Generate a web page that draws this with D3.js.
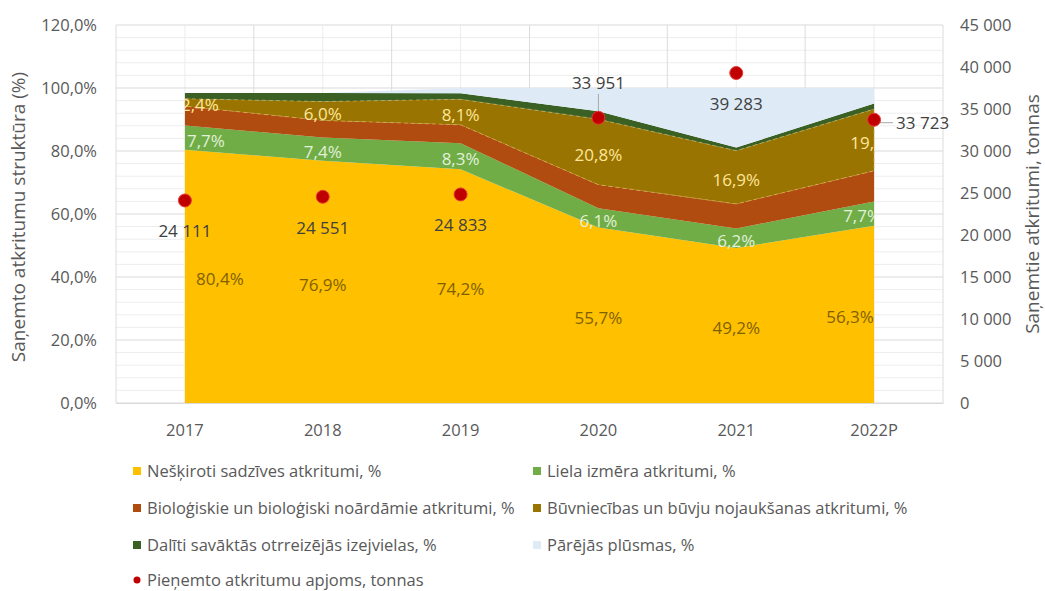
<!DOCTYPE html>
<html>
<head>
<meta charset="utf-8">
<script src="https://cdn.jsdelivr.net/npm/d3@7"></script>
<style>
  body { margin: 0; background: #fff; }
  svg { font-family: "Open Sans", sans-serif; }
</style>
</head>
<body>
<div id="chart"></div>
<script>
// categories
const years = ["2017", "2018", "2019", "2020", "2021", "2022P"];

// structure of received waste, % (stacked bottom -> top)
const neskiroti = [80.4, 76.9, 74.2, 55.7, 49.2, 56.3];
const lielaIzmera = [7.7, 7.4, 8.3, 6.1, 6.2, 7.7];
const biologiskie = [6.1, 5.4, 5.8, 7.5, 7.8, 9.7];
const buvniecibas = [2.4, 6.0, 8.1, 20.8, 16.9, 19.6];
const daliti = [1.8, 2.7, 1.9, 2.5, 1.0, 1.8];
const parejas = [0, 0, 1.7, 7.4, 18.9, 4.9];

// received waste, tonnes (right axis)
const tonnas = [24111, 24551, 24833, 33951, 39283, 33723];

// tick values
const pctTicks = [0, 20, 40, 60, 80, 100, 120];
const tonTicks = [0, 5000, 10000, 15000, 20000, 25000, 30000, 35000, 40000, 45000];

const seriesNames = [
    "Nešķiroti sadzīves atkritumi, %",
    "Liela izmēra atkritumi, %",
    "Bioloģiskie un bioloģiski noārdāmie atkritumi, %",
    "Būvniecības un būvju nojaukšanas atkritumi, %",
    "Dalīti savāktās otrreizējās izejvielas, %",
    "Pārējās plūsmas, %"
];
const dotName = "Pieņemto atkritumu apjoms, tonnas";

const keys = ["neskiroti", "liela", "bio", "buv", "dal", "par"];
const colors = ["#FFC000", "#70AD47", "#B04C0F", "#9A7400", "#3A6024", "#DEEBF7"];

// build table for the stack layout
const rows = years.map((yr, i) => ({
    year: yr,
    neskiroti: neskiroti[i],
    liela: lielaIzmera[i],
    bio: biologiskie[i],
    buv: buvniecibas[i],
    dal: daliti[i],
    par: parejas[i]
}));

const width = 1045, height = 591;
const margin = { top: 25, right: 102, bottom: 188, left: 116 };
const textColor = "#595959";

const locale = d3.formatLocale({ decimal: ",", thousands: "\u00a0", grouping: [3], currency: ["", ""] });
const fmtPct = locale.format(".1f");
const fmtTon = locale.format(",.0f");

const svg = d3.select("#chart").append("svg")
    .attr("width", width)
    .attr("height", height);

const x = d3.scaleBand()
    .domain(years)
    .range([margin.left, width - margin.right]);
const xc = d => x(d) + x.bandwidth() / 2;

const y = d3.scaleLinear()
    .domain([0, 120])
    .range([height - margin.bottom, margin.top]);

const yR = d3.scaleLinear()
    .domain([0, 45000])
    .range([height - margin.bottom, margin.top]);

// gridlines: minor every 4 %, major every 20 %
const grid = svg.append("g");
grid.selectAll(".hminor")
    .data(d3.range(0, 121, 4).filter(v => v % 20 !== 0))
    .join("line")
    .attr("x1", margin.left).attr("x2", width - margin.right)
    .attr("y1", d => y(d)).attr("y2", d => y(d))
    .attr("stroke", "#EDEDED");
grid.selectAll(".vminor")
    .data(years)
    .join("line")
    .attr("x1", d => xc(d)).attr("x2", d => xc(d))
    .attr("y1", margin.top).attr("y2", y(0))
    .attr("stroke", "#EDEDED");
grid.selectAll(".hmajor")
    .data(pctTicks)
    .join("line")
    .attr("x1", margin.left).attr("x2", width - margin.right)
    .attr("y1", d => y(d)).attr("y2", d => y(d))
    .attr("stroke", "#D9D9D9");
grid.selectAll(".vmajor")
    .data(years.concat(["end"]))
    .join("line")
    .attr("x1", (d, i) => margin.left + i * x.bandwidth())
    .attr("x2", (d, i) => margin.left + i * x.bandwidth())
    .attr("y1", margin.top).attr("y2", y(0))
    .attr("stroke", "#DCDCDC");

// stacked areas
const stacked = d3.stack().keys(keys)(rows);
const area = d3.area()
    .x(d => xc(d.data.year))
    .y0(d => y(d[0]))
    .y1(d => y(d[1]));

svg.append("g").selectAll("path")
    .data(stacked)
    .join("path")
    .attr("d", area)
    .attr("fill", (d, i) => colors[i]);

// thin dashed border on the construction layer
svg.append("path")
    .datum(stacked[3])
    .attr("d", area)
    .attr("fill", "none")
    .attr("stroke", "#E8C25A")
    .attr("stroke-width", 0.8)
    .attr("stroke-dasharray", "4,3")
    .attr("opacity", 0.7);

// left axis
const yAxis = svg.append("g")
    .attr("transform", `translate(${margin.left},0)`)
    .call(d3.axisLeft(y).tickValues(pctTicks).tickFormat(d => fmtPct(d) + "%").tickSize(0).tickPadding(19));
yAxis.select(".domain").remove();
yAxis.selectAll("text").attr("fill", textColor).style("font-size", "16.5px").attr("font-family", "Open Sans");

// right axis
const yAxisR = svg.append("g")
    .attr("transform", `translate(${width - margin.right},0)`)
    .call(d3.axisRight(yR).tickValues(tonTicks).tickFormat(fmtTon).tickSize(0).tickPadding(17));
yAxisR.select(".domain").remove();
yAxisR.selectAll("text").attr("fill", textColor).style("font-size", "16.5px").attr("font-family", "Open Sans");

// bottom axis
const xAxis = svg.append("g")
    .attr("transform", `translate(0,${y(0)})`)
    .call(d3.axisBottom(x).tickSize(0).tickPadding(21));
xAxis.select(".domain").attr("stroke", "#D9D9D9");
xAxis.selectAll("text").attr("fill", textColor).style("font-size", "16.5px").attr("font-family", "Open Sans");

// axis titles
svg.append("text")
    .attr("transform", `translate(25,${(y(0) + y(120)) / 2 + 3}) rotate(-90)`)
    .attr("text-anchor", "middle")
    .attr("fill", textColor)
    .style("font-size", "19px")
    .text("Saņemto atkritumu struktūra (%)");

svg.append("text")
    .attr("transform", `translate(1039,${(y(0) + y(120)) / 2}) rotate(-90)`)
    .attr("text-anchor", "middle")
    .attr("fill", textColor)
    .style("font-size", "19px")
    .text("Saņemtie atkritumi, tonnas");

// percentage labels for the first, second and fourth layer
svg.append("clipPath").attr("id", "areaClip")
    .append("rect")
    .attr("x", xc(years[0]))
    .attr("y", margin.top)
    .attr("width", xc(years[years.length - 1]) - xc(years[0]) + 1)
    .attr("height", y(0) - margin.top);

const labelled = [
    { layer: 0, color: "#7F6000", shift: [35, 0, 0, 0, 0, -24] },
    { layer: 1, color: "#E2F0D9", shift: [21, 0, 0, 0, 0, -12] },
    { layer: 3, color: "#FFE699", shift: [15, 0, 0, 0, 0, 0] }
];
const labels = svg.append("g").attr("clip-path", "url(#areaClip)");
labelled.forEach(l => {
    labels.selectAll(null)
        .data(stacked[l.layer])
        .join("text")
        .attr("x", (d, i) => xc(d.data.year) + l.shift[i])
        .attr("y", d => y((d[0] + d[1]) / 2) + 3)
        .attr("dy", "0.35em")
        .attr("text-anchor", "middle")
        .attr("fill", l.color)
        .style("font-size", "17px")
        .text(d => fmtPct(d[1] - d[0]) + "%");
});

// tonnage dots and their labels
const place = ["below", "below", "below", "above", "below", "right"];
const dots = svg.append("g");
tonnas.forEach((v, i) => {
    const cx = xc(years[i]), cy = yR(v);
    let lx = cx, ly = cy + 37, anchor = "middle";
    if (place[i] === "above") {
        ly = cy - 29;
        dots.append("line")
            .attr("x1", cx).attr("x2", cx)
            .attr("y1", cy - 24).attr("y2", cy - 4)
            .attr("stroke", "#A6A6A6");
    }
    if (place[i] === "right") {
        lx = cx + 22; ly = cy + 9; anchor = "start";
        dots.append("line")
            .attr("x1", cx + 5).attr("x2", cx + 19)
            .attr("y1", cy + 3).attr("y2", cy + 3)
            .attr("stroke", "#A6A6A6");
    }
    dots.append("circle")
        .attr("cx", cx).attr("cy", cy).attr("r", 6.5)
        .attr("fill", "#C00000")
        .attr("stroke", "#E63A3A")
        .attr("stroke-width", 1);
    dots.append("text")
        .attr("x", lx).attr("y", ly)
        .attr("text-anchor", anchor)
        .attr("fill", "#404040")
        .style("font-size", "17px")
        .text(fmtTon(v));
});

// legend
const legend = svg.append("g");
const legendItems = seriesNames.map((n, i) => ({ name: n, color: colors[i], type: "rect" }))
    .concat([{ name: dotName, color: "#C00000", type: "dot" }]);
const colX = [133, 533], rowY = [471, 508, 545, 580];

legendItems.forEach((d, i) => {
    const g = legend.append("g")
        .attr("transform", `translate(${colX[i % 2]},${rowY[Math.floor(i / 2)]})`);
    if (d.type === "rect") {
        g.append("rect").attr("x", 0).attr("y", -4).attr("width", 8).attr("height", 8).attr("fill", d.color);
    } else {
        g.append("circle").attr("cx", 4).attr("cy", 0).attr("r", 3.5).attr("fill", d.color);
    }
    g.append("text")
        .attr("x", 14)
        .attr("dy", "0.35em")
        .attr("fill", textColor)
        .style("font-size", "16.5px")
        .text(d.name);
});
</script>
</body>
</html>
